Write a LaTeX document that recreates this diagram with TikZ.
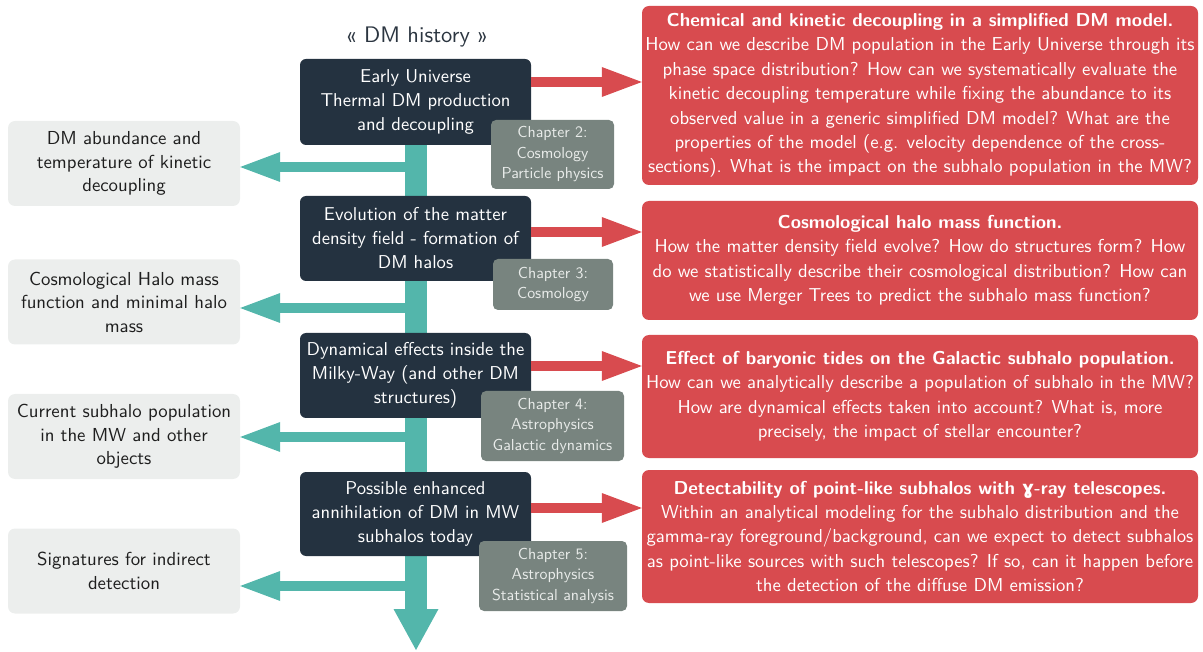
\documentclass[tikz,border=0pt]{standalone}
\usepackage{fontspec}
\setsansfont{lmsans10-regular.otf}[BoldFont=lmsans10-bold.otf]
\newfontfamily\dejavub{DejaVu Sans}
\usetikzlibrary{arrows.meta}
\definecolor{darkc}{HTML}{243240}
\definecolor{redc}{HTML}{D84B4F}
\definecolor{tealc}{HTML}{53B6AB}
\definecolor{chapc}{HTML}{78847F}
\definecolor{chaptext}{HTML}{E9ECEA}
\definecolor{lightc}{HTML}{ECEEED}
\definecolor{lefttext}{HTML}{1E1E1E}
\definecolor{titlec}{HTML}{2B3540}
\tikzset{
  mainbox/.style={fill=darkc, rounded corners=6pt, text=white, align=center,
    font=\sffamily\fontsize{18.6}{24}\selectfont, minimum width=231pt, inner sep=0pt},
  chapbox/.style={fill=chapc, rounded corners=5pt, text=chaptext, align=center,
    font=\sffamily\fontsize{15.9}{20.5}\selectfont, inner sep=0pt},
  leftbox/.style={fill=lightc, rounded corners=7pt, text=lefttext, align=center,
    font=\sffamily\fontsize{18.8}{23.5}\selectfont, minimum width=232pt, minimum height=85pt, inner sep=0pt},
  qbox/.style={fill=redc, rounded corners=7pt, text=white, align=center,
    font=\sffamily\fontsize{18.7}{24.4}\selectfont, minimum width=556pt, inner sep=0pt},
  spinearrow/.style={draw=tealc, line width=22pt, -{Triangle[width=45pt,length=41pt,line width=0pt]}},
  leftarrow/.style={draw=tealc, line width=10pt, -{Triangle[width=30pt,length=40pt,line width=0pt]}},
  redarrow/.style={draw=redc, line width=10pt, -{Triangle[width=30pt,length=40pt,line width=0pt]}},
}
\begin{document}
\begin{tikzpicture}[x=1pt,y=-1pt]
\useasboundingbox (0,0) rectangle (1203,652);

% title
\node[text=titlec, font=\sffamily\fontsize{22.5}{26}\selectfont] (title) at (417,37) {« DM history »};

% spine coordinates
\coordinate (stop) at (416,140);
\coordinate (sbot) at (416,650);
\coordinate (s1) at (416,167);
\coordinate (s2) at (416,308);
\coordinate (s3) at (416,437);
\coordinate (s4) at (416,586);
\coordinate (r1) at (0,82);
\coordinate (r2) at (0,232);
\coordinate (r3) at (0,366);
\coordinate (r4) at (0,508);

% left boxes
\node[leftbox] (l1) at (124,163.5) {DM abundance and\\temperature of kinetic\\decoupling};
\node[leftbox] (l2) at (124,302) {Cosmological Halo mass\\function and minimal halo\\mass};
\node[leftbox] (l3) at (124,436.5) {Current subhalo population\\in the MW and other\\objects};
\node[leftbox] (l4) at (124,571) {Signatures for indirect\\detection};

% teal arrows
\draw[spinearrow] (stop) -- (sbot);
\draw[leftarrow] (s1) -- (l1.east |- s1);
\draw[leftarrow] (s2) -- (l2.east |- s2);
\draw[leftarrow] (s3) -- (l3.east |- s3);
\draw[leftarrow] (s4) -- (l4.east |- s4);

% main boxes
\node[mainbox, minimum height=86pt] (m1) at (415.5,102) {Early Universe\\Thermal DM production\\and decoupling};
\node[mainbox, minimum height=85pt] (m2) at (415.5,238.5) {Evolution of the matter\\density field - formation of\\DM halos};
\node[mainbox, minimum height=85pt] (m3) at (415.5,375.5) {Dynamical effects inside the\\Milky-Way (and other DM\\structures)};
\node[mainbox, minimum height=84pt] (m4) at (415.5,514) {Possible enhanced\\annihilation of DM in MW\\subhalos today};

% question boxes
\node[qbox, minimum height=179pt] (q1) at (920,95.5) {\textbf{Chemical and kinetic decoupling in a simplified DM model.}\\
How can we describe DM population in the Early Universe through its\\
phase space distribution? How can we systematically evaluate the\\
kinetic decoupling temperature while fixing the abundance to its\\
observed value in a generic simplified DM model? What are the\\
properties of the model (e.g. velocity dependence of the cross-\\
sections). What is the impact on the subhalo population in the MW?};
\node[qbox, minimum height=119pt] (q2) at (920,260.5) {\textbf{Cosmological halo mass function.}\\
How the matter density field evolve? How do structures form? How\\
do we statistically describe their cosmological distribution? How can\\
we use Merger Trees to predict the subhalo mass function?};
\node[qbox, minimum height=123pt] (q3) at (920,396.5) {\textbf{Effect of baryonic tides on the Galactic subhalo population.}\\
How can we analytically describe a population of subhalo in the MW?\\
How are dynamical effects taken into account? What is, more\\
precisely, the impact of stellar encounter?};
\node[qbox, minimum height=133pt] (q4) at (920,536.5) {\textbf{Detectability of point-like subhalos with {\dejavub\bfseries ɣ}-ray telescopes.}\\
Within an analytical modeling for the subhalo distribution and the\\
gamma-ray foreground/background, can we expect to detect subhalos\\
as point-like sources with such telescopes? If so, can it happen before\\
the detection of the diffuse DM emission?};

% red arrows
\draw[redarrow] (m1.east |- r1) -- (q1.west |- r1);
\draw[redarrow] (m2.east |- r2) -- (q2.west |- r2);
\draw[redarrow] (m3.east |- r3) -- (q3.west |- r3);
\draw[redarrow] (m4.east |- r4) -- (q4.west |- r4);

% chapter boxes
\node[chapbox, minimum width=123pt, minimum height=69pt] (c1) at (552.5,154.5) {Chapter 2:\\Cosmology\\Particle physics};
\node[chapbox, minimum width=120pt, minimum height=51pt] (c2) at (553,284.5) {Chapter 3:\\Cosmology};
\node[chapbox, minimum width=143pt, minimum height=70pt] (c3) at (552.5,426) {Chapter 4:\\Astrophysics\\Galactic dynamics};
\node[chapbox, minimum width=148pt, minimum height=70pt] (c4) at (553,576) {Chapter 5:\\Astrophysics\\Statistical analysis};
\end{tikzpicture}
\end{document}
